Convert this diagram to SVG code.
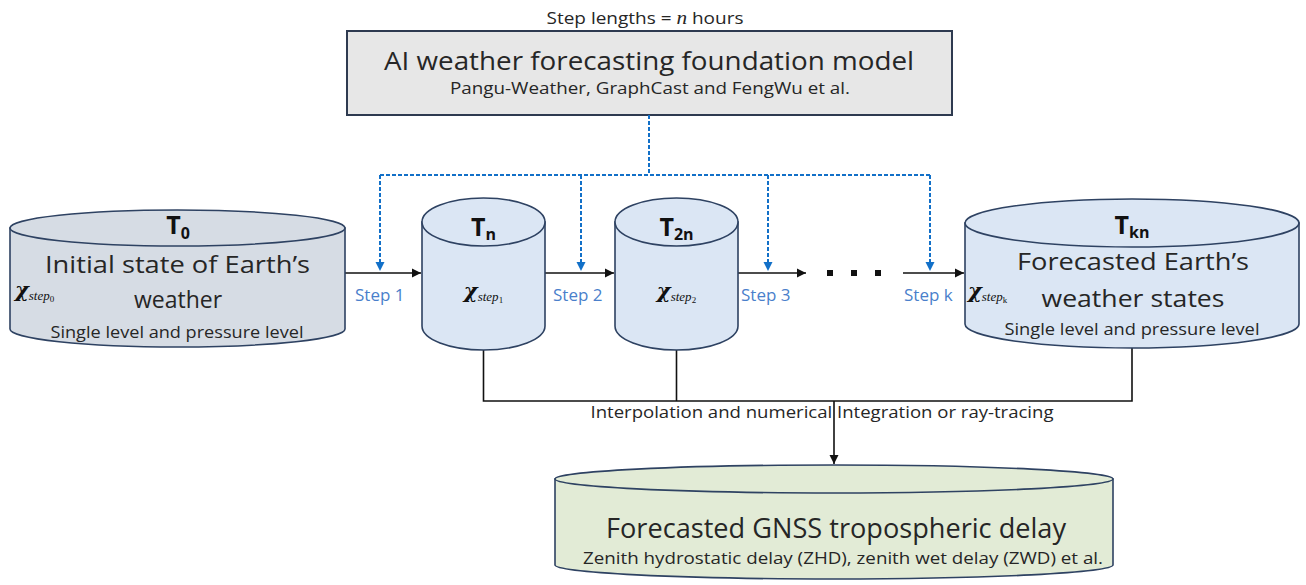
<svg xmlns="http://www.w3.org/2000/svg" width="1306" height="585" viewBox="0 0 1306 585">
<defs>
<style>
.t{font-family:"Open Sans","Noto Sans",sans-serif;fill:#262626}
.lbl{font-family:"Open Sans","Noto Sans",sans-serif;fill:#4A7FCB;font-size:17px}
.T{font-family:"Open Sans","Noto Sans",sans-serif;font-weight:bold;fill:#111;font-size:25px}
.x{font-family:"DejaVu Serif","Liberation Serif",serif;fill:#111;font-size:21px;font-weight:bold;font-style:italic}
.s{font-family:"Liberation Serif",serif;font-size:13px;font-weight:normal;font-style:italic}
.i{font-family:"Liberation Serif",serif;font-size:9px;font-weight:normal;font-style:normal}
.cyl{stroke:#2E4262;stroke-width:1.6}
.blue{fill:#DBE6F4}
.grey{fill:#D6DCE4}
.green{fill:#E2EBD6}
.ln{stroke:#111;stroke-width:1.6;fill:none}
.dash{stroke:#1270C8;stroke-width:2;stroke-dasharray:4 2;fill:none}
</style>
<marker id="ab" markerWidth="10" markerHeight="10" refX="9" refY="5" orient="auto" markerUnits="userSpaceOnUse">
<path d="M0,0.5 L9,5 L0,9.5 Z" fill="#111"/>
</marker>
<marker id="abl" markerWidth="10" markerHeight="10" refX="9" refY="5" orient="auto" markerUnits="userSpaceOnUse">
<path d="M0,0.5 L9,5 L0,9.5 Z" fill="#1270C8"/>
</marker>
</defs>
<rect width="1306" height="585" fill="#fff"/>

<text class="t" x="645" y="24" font-size="17" text-anchor="middle" textLength="197" lengthAdjust="spacingAndGlyphs">Step lengths = <tspan font-family="Liberation Serif,serif" font-style="italic" font-size="19">n</tspan> hours</text>

<g id="model">
<rect x="347" y="31" width="605" height="84" fill="#E7E7E7" stroke="#2E3A50" stroke-width="2"/>
<text class="t" x="649" y="70" font-size="25" text-anchor="middle" textLength="530" lengthAdjust="spacingAndGlyphs">AI weather forecasting foundation model</text>
<text class="t" x="650" y="94" font-size="17" text-anchor="middle" textLength="400" lengthAdjust="spacingAndGlyphs">Pangu-Weather, GraphCast and FengWu et al.</text>
</g>

<g id="connectors">
<path class="dash" d="M649,115 V175 M380,175 H930"/>
<path class="dash" d="M380,175 V271" marker-end="url(#abl)"/>
<path class="dash" d="M581,175 V271" marker-end="url(#abl)"/>
<path class="dash" d="M768,175 V271" marker-end="url(#abl)"/>
<path class="dash" d="M930,175 V271" marker-end="url(#abl)"/>
<path class="ln" d="M345,273 H421" marker-end="url(#ab)"/>
<path class="ln" d="M545,273 H614" marker-end="url(#ab)"/>
<path class="ln" d="M738,273 H806" marker-end="url(#ab)"/>
<path class="ln" d="M903,273 H964" marker-end="url(#ab)"/>
<rect x="827" y="270" width="6" height="6" fill="#111"/>
<rect x="851" y="270" width="6" height="6" fill="#111"/>
<rect x="875" y="270" width="6" height="6" fill="#111"/>
<path class="ln" d="M483.5,350 V401 H1132 V348 M676.5,350 V401"/>
<path class="ln" d="M834,401 V464" marker-end="url(#ab)"/>
<text class="lbl" x="355" y="301">Step 1</text>
<text class="lbl" x="553" y="301">Step 2</text>
<text class="lbl" x="741" y="301">Step 3</text>
<text class="lbl" x="904" y="301">Step k</text>
<text class="t" x="822" y="418" font-size="16" text-anchor="middle" textLength="463" lengthAdjust="spacingAndGlyphs">Interpolation and numerical Integration or ray-tracing</text>
</g>

<g id="initial">
<path class="cyl grey" d="M10,228 V329 A167.5,18 0 0 0 345,329 V228 Z"/>
<ellipse class="cyl grey" cx="177.5" cy="228" rx="167.5" ry="18"/>
<text class="T" x="178" y="234" text-anchor="middle">T<tspan font-size="16" dy="5">0</tspan></text>
<text class="t" x="177.5" y="273" font-size="23" text-anchor="middle" textLength="265" lengthAdjust="spacingAndGlyphs">Initial state of Earth’s</text>
<text class="t" x="178" y="308" font-size="23" text-anchor="middle">weather</text>
<text class="t" x="177" y="338" font-size="17" text-anchor="middle" textLength="253" lengthAdjust="spacingAndGlyphs">Single level and pressure level</text>
<text class="x" x="15" y="297">χ<tspan class="s" dy="3">step</tspan><tspan class="i" dy="2">0</tspan></text>
</g>

<g id="tn">
<path class="cyl blue" d="M422,222 V326 A61.5,24 0 0 0 545,326 V222 Z"/>
<ellipse class="cyl blue" cx="483.5" cy="222" rx="61.5" ry="24"/>
<text class="T" x="483.5" y="236" text-anchor="middle">T<tspan font-size="16" dy="4">n</tspan></text>
<text class="x" x="483.5" y="298" text-anchor="middle">χ<tspan class="s" dy="3">step</tspan><tspan class="i" dy="2">1</tspan></text>
</g>

<g id="t2n">
<path class="cyl blue" d="M615,222 V326 A61.5,24 0 0 0 738,326 V222 Z"/>
<ellipse class="cyl blue" cx="676.5" cy="222" rx="61.5" ry="24"/>
<text class="T" x="676.5" y="236" text-anchor="middle">T<tspan font-size="16" dy="4">2n</tspan></text>
<text class="x" x="676.5" y="298" text-anchor="middle">χ<tspan class="s" dy="3">step</tspan><tspan class="i" dy="2">2</tspan></text>
</g>

<g id="tkn">
<path class="cyl blue" d="M965,223 V324 A167,24 0 0 0 1299,324 V223 Z"/>
<ellipse class="cyl blue" cx="1132" cy="223" rx="167" ry="24"/>
<text class="T" x="1132" y="234" text-anchor="middle">T<tspan font-size="16" dy="4">kn</tspan></text>
<text class="t" x="1133" y="270" font-size="23" text-anchor="middle" textLength="232" lengthAdjust="spacingAndGlyphs">Forecasted Earth’s</text>
<text class="t" x="1133" y="307" font-size="23" text-anchor="middle" textLength="183" lengthAdjust="spacingAndGlyphs">weather states</text>
<text class="t" x="1132" y="335" font-size="17" text-anchor="middle" textLength="255" lengthAdjust="spacingAndGlyphs">Single level and pressure level</text>
<text class="x" x="968" y="298">χ<tspan class="s" dy="3">step</tspan><tspan class="i" dy="2">k</tspan></text>
</g>

<g id="gnss">
<path class="cyl green" d="M555,479 V565 A279,14 0 0 0 1113,565 V479 Z"/>
<ellipse class="cyl green" cx="834" cy="479" rx="279" ry="14"/>
<text class="t" x="836" y="538" font-size="27" text-anchor="middle" textLength="460" lengthAdjust="spacingAndGlyphs">Forecasted GNSS tropospheric delay</text>
<text class="t" x="843" y="564" font-size="17" text-anchor="middle" textLength="520" lengthAdjust="spacingAndGlyphs">Zenith hydrostatic delay (ZHD), zenith wet delay (ZWD) et al.</text>
</g>
</svg>
